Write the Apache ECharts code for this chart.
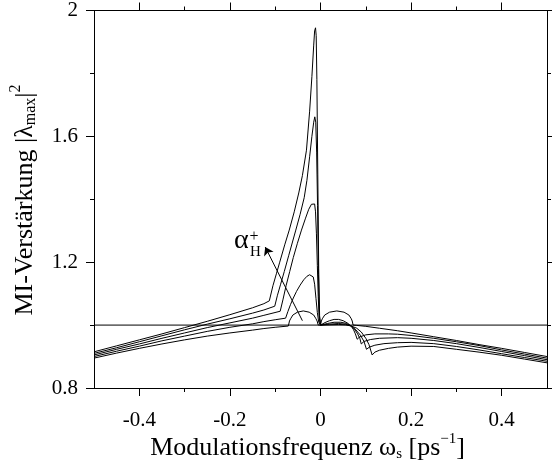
<!DOCTYPE html>
<html>
<head>
<meta charset="utf-8">
<script src="https://cdn.jsdelivr.net/npm/echarts@6/dist/echarts.min.js"></script>
<style>
html,body{margin:0;padding:0;background:#fff;}
#chart{width:552px;height:470px;}
</style>
</head>
<body>
<div id="chart"></div>
<script>
// ---- data ----
const xMajorTicks = [-0.4, -0.2, 0, 0.2, 0.4];
const xMinorTicks = [-0.3, -0.1, 0.1, 0.3];
const yMajorTicks = [0.8, 1.2, 1.6, 2];
const yMinorTicks = [1.0, 1.4, 1.8];

const curve1 = [[-0.5,0.915],[-0.45,0.934],[-0.4,0.953],[-0.35,0.972],[-0.3,0.992],[-0.25,1.012],[-0.2,1.033],[-0.15,1.055],[-0.125,1.068],[-0.113,1.077],
[-0.105,1.125],[-0.097,1.165],[-0.09,1.2],[-0.079,1.255],[-0.069,1.302],[-0.058,1.36],[-0.048,1.42],[-0.04,1.475],[-0.031,1.556],[-0.024,1.68],[-0.019,1.79],[-0.015,1.89],[-0.013,1.935],[-0.011,1.945],[-0.0095,1.92],[-0.008,1.78],[-0.006,1.48],[-0.004,1.18],[-0.002,1.03],[0,1.0],
[0.02,1.001],[0.04,1.002],[0.055,1.001],[0.068,0.997],[0.08,0.99],[0.09,0.978],[0.1,0.958],[0.107,0.938],[0.114,0.905],[0.12,0.914],[0.13,0.92],[0.15,0.926],[0.17,0.93],[0.2,0.933],[0.25,0.932],[0.3,0.923],[0.35,0.914],[0.4,0.904],[0.45,0.892],[0.5,0.88]];

const curve2 = [[-0.5,0.91],[-0.45,0.928],[-0.4,0.947],[-0.35,0.966],[-0.3,0.985],[-0.25,1.003],[-0.2,1.02],[-0.15,1.038],[-0.125,1.048],[-0.101,1.06],
[-0.095,1.095],[-0.088,1.13],[-0.08,1.17],[-0.07,1.222],[-0.0545,1.302],[-0.045,1.352],[-0.036,1.405],[-0.03,1.46],[-0.024,1.535],[-0.019,1.6],[-0.015,1.645],[-0.0126,1.662],[-0.0105,1.645],[-0.0085,1.55],[-0.0065,1.38],[-0.0045,1.16],[-0.0025,1.03],[0,1.0],
[0.02,1.003],[0.04,1.005],[0.055,1.003],[0.068,0.997],[0.078,0.985],[0.088,0.968],[0.096,0.948],[0.1015,0.923],[0.108,0.93],[0.12,0.936],[0.14,0.941],[0.17,0.944],[0.2,0.945],[0.25,0.941],[0.3,0.932],[0.35,0.921],[0.4,0.909],[0.45,0.897],[0.5,0.885]];

const curve3 = [[-0.5,0.905],[-0.45,0.923],[-0.4,0.94],[-0.35,0.958],[-0.3,0.975],[-0.25,0.992],[-0.2,1.007],[-0.15,1.022],[-0.125,1.031],[-0.089,1.044],
[-0.083,1.08],[-0.076,1.125],[-0.068,1.17],[-0.06,1.215],[-0.051,1.26],[-0.042,1.302],[-0.033,1.34],[-0.026,1.368],[-0.02,1.384],[-0.016,1.39],[-0.013,1.385],[-0.011,1.36],[-0.009,1.29],[-0.007,1.19],[-0.005,1.09],[-0.003,1.025],[0,1.0],
[0.015,1.005],[0.03,1.009],[0.045,1.009],[0.058,1.005],[0.068,0.997],[0.075,0.987],[0.082,0.972],[0.087,0.957],[0.09,0.94],[0.096,0.948],[0.11,0.954],[0.13,0.958],[0.17,0.96],[0.2,0.958],[0.25,0.951],[0.3,0.941],[0.35,0.929],[0.4,0.916],[0.45,0.903],[0.5,0.89]];

const curve4 = [[-0.5,0.9],[-0.45,0.917],[-0.4,0.933],[-0.35,0.95],[-0.3,0.965],[-0.25,0.98],[-0.2,0.993],[-0.15,1.004],[-0.125,1.011],[-0.1,1.017],[-0.077,1.022],
[-0.072,1.043],[-0.066,1.066],[-0.06,1.086],[-0.053,1.107],[-0.045,1.127],[-0.037,1.144],[-0.03,1.155],[-0.024,1.16],[-0.02,1.161],[-0.016,1.153],[-0.013,1.13],[-0.01,1.085],[-0.007,1.04],[-0.004,1.01],[0,1.0],
[0.01,1.008],[0.02,1.014],[0.03,1.018],[0.04,1.018],[0.05,1.014],[0.06,1.006],[0.068,0.996],[0.073,0.985],[0.077,0.972],[0.081,0.955],[0.086,0.962],[0.1,0.969],[0.12,0.972],[0.15,0.972],[0.17,0.971],[0.2,0.967],[0.25,0.958],[0.3,0.947],[0.35,0.935],[0.4,0.921],[0.45,0.908],[0.5,0.895]];

const curve5 = [[-0.5,0.895],[-0.45,0.911],[-0.4,0.926],[-0.35,0.94],[-0.3,0.953],[-0.25,0.965],[-0.2,0.975],[-0.15,0.984],[-0.125,0.989],[-0.1,0.993],[-0.071,0.997],
[-0.0685,1.013],[-0.066,1.02],[-0.061,1.032],[-0.051,1.041],[-0.038,1.045],[-0.025,1.041],[-0.015,1.032],[-0.01,1.02],[-0.0075,1.013],[-0.005,1.0],[0,1.0],
[0.002,1.013],[0.004,1.02],[0.0093,1.032],[0.02,1.041],[0.036,1.045],[0.052,1.041],[0.0627,1.032],[0.068,1.02],[0.07,1.013],[0.072,1.0],
[0.08,0.999],[0.1,0.996],[0.13,0.99],[0.17,0.982],[0.2,0.975],[0.25,0.963],[0.3,0.951],[0.35,0.938],[0.4,0.926],[0.45,0.913],[0.5,0.9]];

const unityLine = [[-0.5,1.0],[0.5,1.0]];
const arrowFrom = [-0.040, 1.014];
const arrowTo = [-0.122, 1.248];

const xTitleParts = [['Modulationsfrequenz ω', 'n'], ['s', 'sub'], [' [ps', 'n'], ['−1', 'sup'], [']', 'n']];
const yTitleParts = [['MI-Verstärkung |λ', 'n'], ['max', 'sub'], ['|', 'n'], ['2', 'sup']];

// ---- chart ----
const FAM = 'Liberation Serif';
const FONT = "'Liberation Serif','Times New Roman',serif";
const chart = echarts.init(document.getElementById('chart'), null, {renderer:'canvas'});
const axLine = {color:'#000', width:1};
const fmt = v => String(Math.round(v*10)/10);

const mctx = document.createElement('canvas').getContext('2d');
function measure(t, size) { mctx.font = size + "px '" + FAM + "'"; return mctx.measureText(t).width; }

// build a row of text pieces (normal / subscript / superscript), centred on 0
function titleRow(parts, base, small, subDy, supDy) {
  const items = parts.map(p => {
    const size = p[1] === 'n' ? base : small;
    return {t:p[0], size:size, dy: p[1]==='sub' ? subDy : (p[1]==='sup' ? supDy : 0), w: measure(p[0], size)};
  });
  const total = items.reduce((a, b) => a + b.w, 0);
  let x = -total / 2;
  return items.map(it => {
    const el = {type:'text', x:x, y:it.dy, style:{text:it.t, font:it.size + 'px ' + FONT, fill:'#000', align:'left', verticalAlign:'middle'}};
    x += it.w;
    return el;
  });
}

function xAx(pos, ticks, len, main, label) {
  return {
    type:'value', position:pos, min:-0.5, max:0.5,
    axisLine:{show:main, onZero:false, lineStyle:axLine},
    axisTick:{show:true, inside:false, length:len, customValues:ticks, lineStyle:axLine},
    axisLabel:{show:label, customValues:ticks, margin:22, formatter:fmt,
               fontFamily:FONT, fontSize:21, color:'#000'},
    splitLine:{show:false}
  };
}
function yAx(pos, ticks, len, main, label) {
  return {
    type:'value', position:pos, min:0.8, max:2,
    axisLine:{show:main, onZero:false, lineStyle:axLine},
    axisTick:{show:true, inside:false, length:len, customValues:ticks, lineStyle:axLine},
    axisLabel:{show:label, customValues:ticks, margin:16, formatter:fmt,
               fontFamily:FONT, fontSize:21, color:'#000'},
    splitLine:{show:false}
  };
}

function curveSeries(data) {
  return {type:'line', data:data, xAxisIndex:0, yAxisIndex:0, showSymbol:false,
          symbol:'none', lineStyle:{color:'#000', width:1}, silent:true, z:3};
}

const option = {
  animation:false,
  backgroundColor:'#fff',
  grid:{left:94, right:5, top:10, bottom:82, containLabel:false},
  xAxis:[
    xAx('bottom', xMajorTicks, 8, true, true),
    xAx('bottom', xMinorTicks, 4, false, false),
    xAx('top', xMajorTicks, 8, true, false),
    xAx('top', xMinorTicks, 4, false, false)
  ],
  yAxis:[
    yAx('left', yMajorTicks, 8, true, true),
    yAx('left', yMinorTicks, 4, false, false),
    yAx('right', yMajorTicks, 8, true, false),
    yAx('right', yMinorTicks, 4, false, false)
  ],
  series:[
    {type:'line', data:unityLine, xAxisIndex:0, yAxisIndex:0, showSymbol:false, symbol:'none',
     lineStyle:{color:'#000', width:1}, silent:true, z:2,
     markLine:{silent:true, symbol:['none','arrow'], symbolSize:8, animation:false,
       label:{show:false}, lineStyle:{color:'#000', width:1, type:'solid'},
       emphasis:{disabled:true},
       data:[[{coord:arrowFrom},{coord:arrowTo}]]}},
    curveSeries(curve1),
    curveSeries(curve2),
    curveSeries(curve3),
    curveSeries(curve4),
    curveSeries(curve5)
  ],
  graphic:[
    {type:'group', x:307.5, y:448, children: titleRow(xTitleParts, 26, 15, 6, -9)},
    {type:'group', x:25, y:200, rotation:Math.PI/2, children: titleRow(yTitleParts, 26, 16, 6, -9)},
    {type:'text', x:234, y:241, style:{text:'α', font:'28px '+FONT, fill:'#000', align:'left', verticalAlign:'middle'}},
    {type:'text', x:250, y:252, style:{text:'H', font:'15px '+FONT, fill:'#000', align:'left', verticalAlign:'middle'}},
    {type:'text', x:254, y:237, style:{text:'+', font:'16px '+FONT, fill:'#000', align:'center', verticalAlign:'middle'}}
  ]
};
chart.setOption(option);
</script>
</body>
</html>
